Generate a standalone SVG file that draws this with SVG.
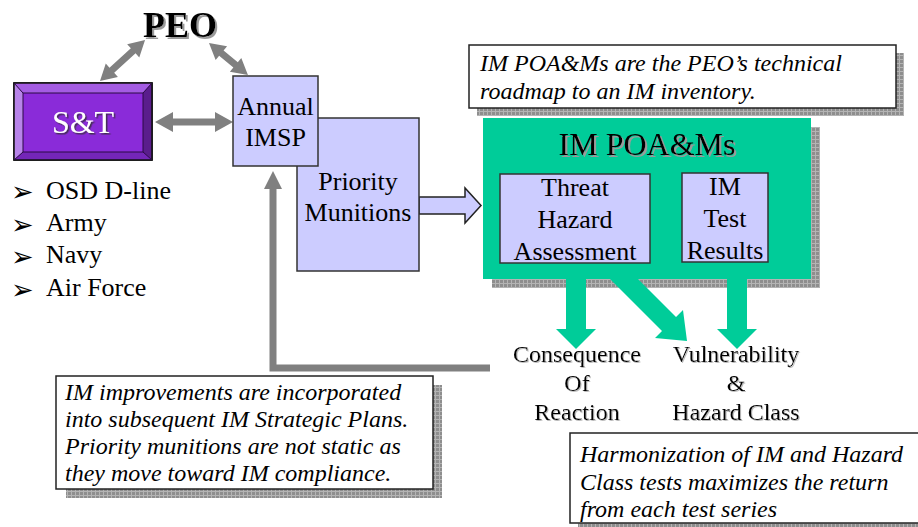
<svg xmlns="http://www.w3.org/2000/svg" width="918" height="527" viewBox="0 0 918 527" font-family="'Liberation Serif', 'Times New Roman', serif">
  <defs>
    <pattern id="grid" width="4" height="4" patternUnits="userSpaceOnUse">
      <rect width="4" height="4" fill="#b4b4b4"/>
      <rect width="3" height="3" fill="#8e8e8e"/>
    </pattern>
    <filter id="tsh" x="-10%" y="-10%" width="130%" height="140%">
      <feDropShadow dx="2" dy="2" stdDeviation="0.4" flood-color="#9a9a9a" flood-opacity="1"/>
    </filter>
    <filter id="tsh2" x="-10%" y="-10%" width="130%" height="140%">
      <feDropShadow dx="1.5" dy="1.5" stdDeviation="0.3" flood-color="#333" flood-opacity="0.8"/>
    </filter>
    <filter id="tsh3" x="-10%" y="-10%" width="130%" height="140%">
      <feDropShadow dx="1" dy="1" stdDeviation="0.3" flood-color="#bbb" flood-opacity="1"/>
    </filter>
    <marker id="grayHead" markerUnits="userSpaceOnUse" markerWidth="20" markerHeight="20" viewBox="0 0 20 20" refX="2" refY="10" orient="auto">
      <polygon points="0,1 18,10 0,19" fill="#808080"/>
    </marker>
  </defs>
  <style>
    .t { font-family: "Liberation Serif", "Times New Roman", serif; fill: #000; }
    .c { text-anchor: middle; }
    .lbl { font-size: 26px; }
    .res { font-size: 24px; }
    .note { font-size: 24px; font-style: italic; }
    .bul { font-family: "DejaVu Sans", sans-serif; font-size: 27px; fill: #000; }
    .box { fill: #ccccff; stroke: #333; stroke-width: 1.5; }
    .notebox { fill: #fff; stroke: #222; stroke-width: 1.5; }
    .gray { fill: #808080; }
    .green { fill: #00cc99; }
  </style>

  <rect width="918" height="527" fill="#fff"/>

  <!-- shadows -->
  <rect x="477" y="53" width="427" height="63" fill="url(#grid)"/>
  <rect x="492" y="127" width="328" height="161" fill="url(#grid)"/>
  <rect x="66" y="385" width="376" height="113" fill="url(#grid)"/>
  <rect x="578" y="441" width="340" height="86" fill="url(#grid)"/>

  <!-- connectors -->
  <g id="connectors">
    <polygon class="gray" transform="translate(100,81) rotate(-42.3)" points="0,0 16,-9 16,-3.5 44.9,-3.5 44.9,-9 60.9,0 44.9,9 44.9,3.5 16,3.5 16,9"/>
    <polygon class="gray" transform="translate(209,43) rotate(39.4)" points="0,0 16,-9 16,-3.5 34.4,-3.5 34.4,-9 50.4,0 34.4,9 34.4,3.5 16,3.5 16,9"/>
    <polygon class="gray" transform="translate(155,122)" points="0,0 18,-10 18,-3.5 60,-3.5 60,-10 78,0 60,10 60,3.5 18,3.5 18,10"/>
    <path d="M490,368 H273 V187" fill="none" stroke="#808080" stroke-width="7" marker-end="url(#grayHead)"/>
    <polygon points="419,197 465,197 465,188 481,205.5 465,223 465,214 419,214" fill="#ccccff" stroke="#222" stroke-width="1.5"/>
    <polygon class="green" points="566,265 586,265 586,329 596,329 576,349 556,329 566,329"/>
    <polygon class="green" points="727,265 747,265 747,329 757,329 737,349 717,329 727,329"/>
    <polygon class="green" points="617,258 676,317 683,310 687,341 655,338 662,331 603,272"/>
  </g>

  <g id="peo">
    <text class="t c" x="180" y="37" font-size="36" font-weight="bold" filter="url(#tsh)">PEO</text>
  </g>

  <g id="st">
    <rect x="14" y="83" width="138" height="77" fill="#8a2bd9" stroke="#111" stroke-width="1.5"/>
    <polygon points="14,83 152,83 143,93 23,93" fill="#a45ce3"/>
    <polygon points="14,83 23,93 23,152 14,160" fill="#b884ea"/>
    <polygon points="152,83 152,160 143,152 143,93" fill="#5a1d8c"/>
    <polygon points="14,160 152,160 143,152 23,152" fill="#7426b8"/>
    <rect x="23" y="93" width="120" height="59" fill="#8a2bd9" stroke="#2a0a45" stroke-width="1"/>
    <rect x="14" y="83" width="138" height="77" fill="none" stroke="#111" stroke-width="1.5"/>
    <line x1="14" y1="83" x2="23" y2="93" stroke="#2a0a45" stroke-width="1"/>
    <line x1="152" y1="83" x2="143" y2="93" stroke="#2a0a45" stroke-width="1"/>
    <line x1="14" y1="160" x2="23" y2="152" stroke="#2a0a45" stroke-width="1"/>
    <line x1="152" y1="160" x2="143" y2="152" stroke="#2a0a45" stroke-width="1"/>
    <text class="t c" x="83" y="133" font-size="32" style="fill:#fff" filter="url(#tsh2)">S&amp;T</text>
  </g>

  <g id="sources">
    <text class="bul" x="11" y="201">➢</text>
    <text class="bul" x="11" y="234">➢</text>
    <text class="bul" x="11" y="266">➢</text>
    <text class="bul" x="11" y="299">➢</text>
    <text class="t lbl" x="46" y="199">OSD D-line</text>
    <text class="t lbl" x="46" y="231">Army</text>
    <text class="t lbl" x="46" y="263">Navy</text>
    <text class="t lbl" x="46" y="296">Air Force</text>
  </g>

  <g id="priority">
    <rect class="box" x="297" y="118" width="122" height="153"/>
    <text class="t c lbl" x="358" y="190">Priority</text>
    <text class="t c lbl" x="358" y="221">Munitions</text>
  </g>

  <g id="imsp">
    <rect class="box" x="233" y="76" width="85" height="90"/>
    <text class="t c lbl" x="275.5" y="115">Annual</text>
    <text class="t c lbl" x="275.5" y="146">IMSP</text>
  </g>

  <g id="note-top">
    <rect class="notebox" x="469" y="45" width="427" height="63"/>
    <text class="t note" x="480" y="71">IM POA&amp;Ms are the PEO’s technical</text>
    <text class="t note" x="480" y="99">roadmap to an IM inventory.</text>
  </g>

  <g id="poams">
    <rect class="green" x="483" y="118" width="328" height="161"/>
    <text class="t c" x="647" y="155" font-size="32" filter="url(#tsh)">IM POA&amp;Ms</text>
    <g id="threat">
      <rect class="box" x="500" y="174" width="150" height="89"/>
      <text class="t c lbl" x="575" y="196">Threat</text>
      <text class="t c lbl" x="575" y="228">Hazard</text>
      <text class="t c lbl" x="575" y="260">Assessment</text>
    </g>
    <g id="imtest">
      <rect class="box" x="682" y="173" width="86" height="89"/>
      <text class="t c lbl" x="725" y="195">IM</text>
      <text class="t c lbl" x="725" y="227">Test</text>
      <text class="t c lbl" x="725" y="259">Results</text>
    </g>
  </g>

  <g id="consequence">
    <text class="t c res" x="577" y="362" filter="url(#tsh3)">Consequence</text>
    <text class="t c res" x="577" y="391" filter="url(#tsh3)">Of</text>
    <text class="t c res" x="577" y="420" filter="url(#tsh3)">Reaction</text>
  </g>

  <g id="vulnerability">
    <text class="t c res" x="736" y="362" filter="url(#tsh3)">Vulnerability</text>
    <text class="t c res" x="736" y="391" filter="url(#tsh3)">&amp;</text>
    <text class="t c res" x="736" y="420" filter="url(#tsh3)">Hazard Class</text>
  </g>

  <g id="note-left">
    <rect class="notebox" x="56" y="376" width="377" height="113"/>
    <text class="t note" x="65" y="400">IM improvements are incorporated</text>
    <text class="t note" x="65" y="427">into subsequent IM Strategic Plans.</text>
    <text class="t note" x="65" y="454">Priority munitions are not static as</text>
    <text class="t note" x="65" y="481">they move toward IM compliance.</text>
  </g>

  <g id="note-right">
    <rect class="notebox" x="570" y="433" width="360" height="90"/>
    <text class="t note" x="580" y="462">Harmonization of IM and Hazard</text>
    <text class="t note" x="580" y="490">Class tests maximizes the return</text>
    <text class="t note" x="580" y="517">from each test series</text>
  </g>
</svg>
